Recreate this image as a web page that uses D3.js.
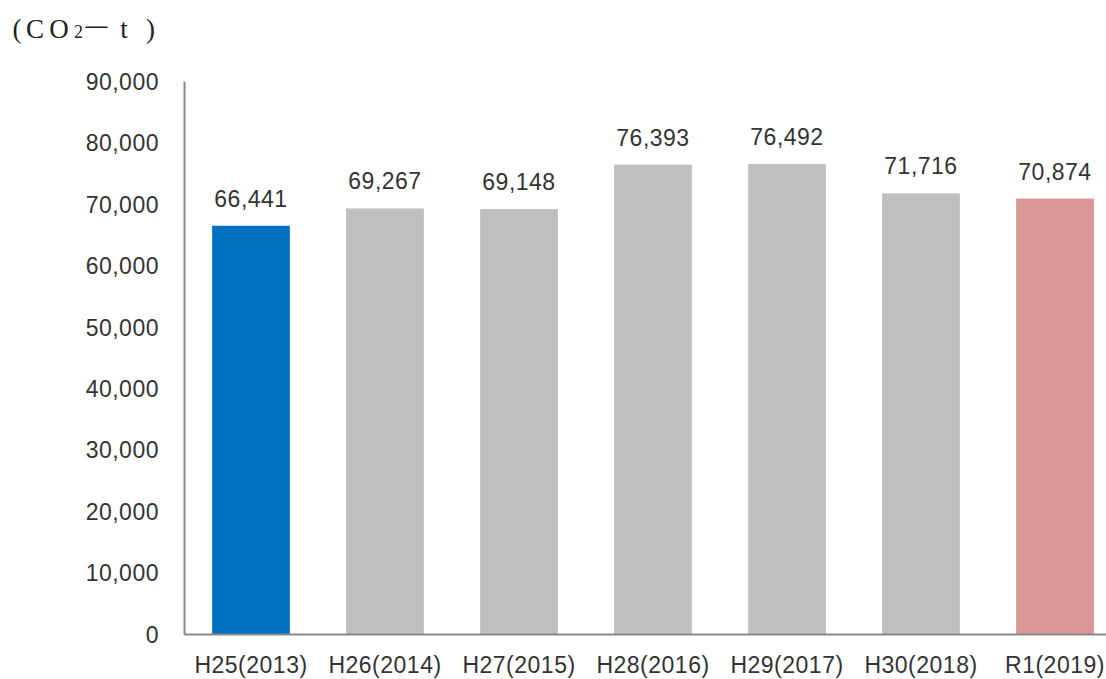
<!DOCTYPE html>
<html>
<head>
<meta charset="utf-8">
<script src="https://cdn.jsdelivr.net/npm/d3@7"></script>
<style>
  html, body { margin: 0; padding: 0; background: #fff; }
  svg { display: block; }
  text { font-family: "Liberation Sans", Arial, sans-serif; fill: #333; }
</style>
</head>
<body>
<svg id="chart" width="1106" height="679"></svg>
<script>
// Annual CO2 emissions (t-CO2), fiscal years
const categories = ["H25(2013)", "H26(2014)", "H27(2015)", "H28(2016)", "H29(2017)", "H30(2018)", "R1(2019)"];
const emissions = [66441, 69267, 69148, 76393, 76492, 71716, 70874];
const barColors = ["#0070C0", "#BFBFBF", "#BFBFBF", "#BFBFBF", "#BFBFBF", "#BFBFBF", "#D99694"];
const yTicks = [0, 10000, 20000, 30000, 40000, 50000, 60000, 70000, 80000, 90000];
const unitParts = ["(", "C", "O", "2", "－", "t", ")"];

const svg = d3.select("#chart");
const plot = { left: 184, right: 1122, top: 81, bottom: 634 };

const x = d3.scaleBand()
  .domain(categories)
  .range([plot.left, plot.right])
  .paddingInner(0.42)
  .paddingOuter(0.21);

const y = d3.scaleLinear()
  .domain([0, 90000])
  .range([plot.bottom, plot.top]);

const fmt = d3.format(",");

// Bars
svg.append("g").selectAll("rect")
  .data(emissions)
  .join("rect")
  .attr("x", (d, i) => x(categories[i]))
  .attr("y", d => y(d))
  .attr("width", x.bandwidth())
  .attr("height", d => y(0) - y(d))
  .attr("fill", (d, i) => barColors[i]);

// Value labels above bars
svg.append("g").selectAll("text")
  .data(emissions)
  .join("text")
  .attr("x", (d, i) => x(categories[i]) + x.bandwidth() / 2)
  .attr("y", d => y(d) - 19)
  .attr("text-anchor", "middle")
  .attr("font-size", 23)
  .attr("letter-spacing", 0.5)
  .text(d => fmt(d));

// Y axis
const yAxis = svg.append("g")
  .attr("transform", `translate(${plot.left},0)`)
  .call(d3.axisLeft(y).tickValues(yTicks).tickFormat(fmt).tickSize(0).tickPadding(25));
yAxis.select(".domain").attr("stroke", "#898989").attr("stroke-width", 2);
yAxis.selectAll("text")
  .attr("font-size", 23)
  .attr("letter-spacing", 0.5)
  .attr("fill", "#333")
  .attr("dy", "0.36em")
  .style("font-family", "'Liberation Sans', Arial, sans-serif");

// X axis
const xAxis = svg.append("g")
  .attr("transform", `translate(0,${plot.bottom})`)
  .call(d3.axisBottom(x).tickSize(0).tickPadding(0));
xAxis.select(".domain").attr("stroke", "#898989").attr("stroke-width", 2);
xAxis.selectAll("text")
  .attr("font-size", 23)
  .attr("letter-spacing", 0.5)
  .attr("fill", "#333")
  .attr("y", 39)
  .attr("dy", 0)
  .style("font-family", "'Liberation Sans', Arial, sans-serif");

// Unit label, set glyph by glyph in a wide, full-width rhythm
const unitX = [17, 35, 59, 78.5, 96.5, 124, 150.5];
const unitSize = [27, 27, 27, 18, 30, 27, 27];
const unit = svg.append("text")
  .attr("y", 38)
  .attr("text-anchor", "middle")
  .attr("fill", "#222")
  .style("fill", "#222")
  .style("font-family", "'Liberation Serif', 'DejaVu Serif', serif");
unit.selectAll("tspan")
  .data(unitParts)
  .join("tspan")
  .attr("x", (d, i) => unitX[i])
  .attr("y", (d, i) => (i === 4 ? 38 : 38))
  .attr("font-size", (d, i) => unitSize[i])
  .style("font-family", (d, i) => (i === 4 ? "'Noto Sans CJK JP', sans-serif" : null))
  .style("font-weight", (d, i) => (i === 4 ? 300 : null))
  .text(d => d);
</script>
</body>
</html>
